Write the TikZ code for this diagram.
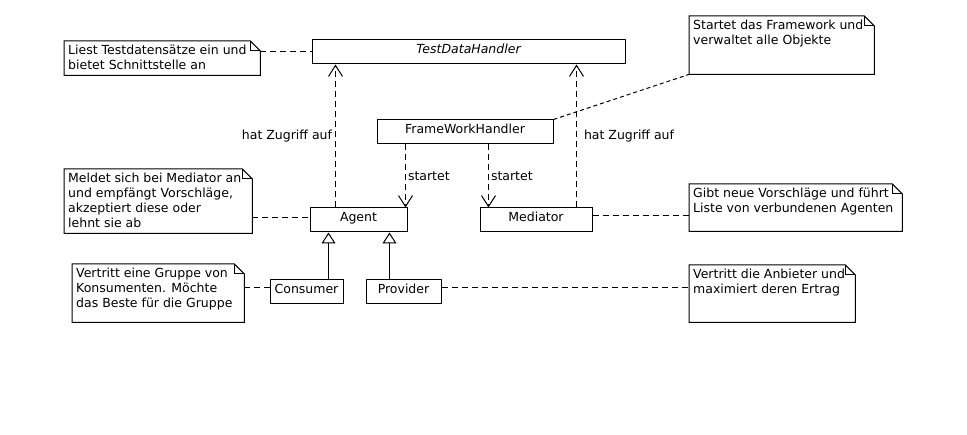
\documentclass[tikz,border=0pt]{standalone}
\usepackage{fontspec}
\setmainfont{DejaVu Sans}
\usetikzlibrary{arrows.meta}
\tikzset{
  ln/.style={line width=1pt, black},
  cls/.style={ln, draw, fill=white, minimum height=24pt, inner sep=0pt, text height=9pt, text depth=5.5pt},
  notebody/.style={inner sep=0pt, anchor=north west},
  notetext/.style={anchor=north west, inner sep=0pt, align=left},
  dashl/.style={ln, dash pattern=on 6pt off 4pt},
  dotl/.style={ln, dash pattern=on 4pt off 3pt},
  dep/.style={dashl, -{Straight Barb[length=11pt, width=14pt, line width=1pt]}},
  gen/.style={ln, -{Triangle[open, length=11pt, width=14pt, line width=1pt, fill=white]}},
  lbl/.style={inner sep=0pt}
}
\newcommand\umlnote[5]{%
  \node[notebody, minimum width=#3pt, minimum height=#4pt] (#1) at (#2) {};
  \node[notetext] (#1t) at ([shift={(4pt,-4pt)}]#1.north west) {#5};
  \draw[ln] (#1.north west) -- ([xshift=-10pt]#1.north east) -- ([yshift=-10pt]#1.north east) -- (#1.south east) -- (#1.south west) -- cycle;
  \draw[ln] ([xshift=-10pt]#1.north east) |- ([yshift=-10pt]#1.north east);
}
\begin{document}
\begin{tikzpicture}[x=1pt, y=-1pt, font=\fontsize{12.5}{15}\selectfont]
\useasboundingbox[fill=white] (0,0) rectangle (967,435);

% classes
\node[cls, minimum width=313pt] (tdh) at (468.5,52) {\itshape TestDataHandler};
\node[cls, minimum width=176pt] (fwh) at (465,132) {FrameWorkHandler};
\node[cls, minimum width=97pt] (agent) at (358.5,220) {Agent};
\node[cls, minimum width=112pt] (med) at (536,220) {Mediator};
\node[cls, minimum width=73pt] (cons) at (306.5,292) {Consumer};
\node[cls, minimum width=75pt] (prov) at (403.5,292) {Provider};

% notes
\umlnote{n1}{64,41}{196}{34}{Liest Testdatensätze ein und\\bietet Schnittstelle an}
\umlnote{n2}{689,16}{185}{58}{Startet das Framework und\\verwaltet alle Objekte}
\umlnote{n3}{64,169}{188}{64}{Meldet sich bei Mediator an\\und empfängt Vorschläge,\\akzeptiert diese oder\\lehnt sie ab}
\umlnote{n4}{689,184}{213}{47}{Gibt neue Vorschläge und führt\\Liste von verbundenen Agenten}
\umlnote{n5}{72,264}{172}{58}{Vertritt eine Gruppe von\\Konsumenten. Möchte\\das Beste für die Gruppe}
\umlnote{n6}{689,265}{166}{57}{Vertritt die Anbieter und\\maximiert deren Ertrag}

% attachment points
\coordinate (aL) at ([yshift=2pt]agent.west);
\coordinate (mR) at ([yshift=4pt]med.east);
\coordinate (cL) at ([yshift=4pt]cons.west);
\coordinate (pR) at ([yshift=4pt]prov.east);
\coordinate (agUp) at ([xshift=26pt]agent.north west);
\coordinate (meUp) at ([xshift=-16pt]med.north east);
\coordinate (agIn) at ([xshift=-2pt]agent.north east);
\coordinate (meIn) at ([xshift=9pt]med.north west);
\coordinate (coUp) at ([xshift=-15pt]cons.north east);
\coordinate (prUp) at ([xshift=24pt]prov.north west);

% note connectors
\draw[dashl] (n1.east |- tdh.west) -- (tdh.west);
\draw[dotl] (fwh.north east) -- (n2.south west);
\draw[dashl] (n3.east |- aL) -- (aL);
\draw[dashl] (mR) -- (n4.west |- mR);
\draw[dashl] (n5.east |- cL) -- (cL);
\draw[dashl] (pR) -- (n6.west |- pR);

% dependencies
\draw[dep] (agUp) -- (agUp |- tdh.south)
  node[lbl, midway, anchor=east, xshift=-3pt] (l1) {hat Zugriff auf};
\draw[dep] (meUp) -- (meUp |- tdh.south)
  node[lbl, midway, anchor=west, xshift=7pt] (l2) {hat Zugriff auf};
\draw[dep] (fwh.south -| agIn) -- (agIn)
  node[lbl, midway, anchor=west, xshift=2pt] (l3) {startet};
\draw[dep] (fwh.south -| meIn) -- (meIn)
  node[lbl, midway, anchor=west, xshift=2pt] (l4) {startet};

% generalizations
\draw[gen] (coUp) -- (coUp |- agent.south);
\draw[gen] (prUp) -- (prUp |- agent.south);
\end{tikzpicture}
\end{document}
